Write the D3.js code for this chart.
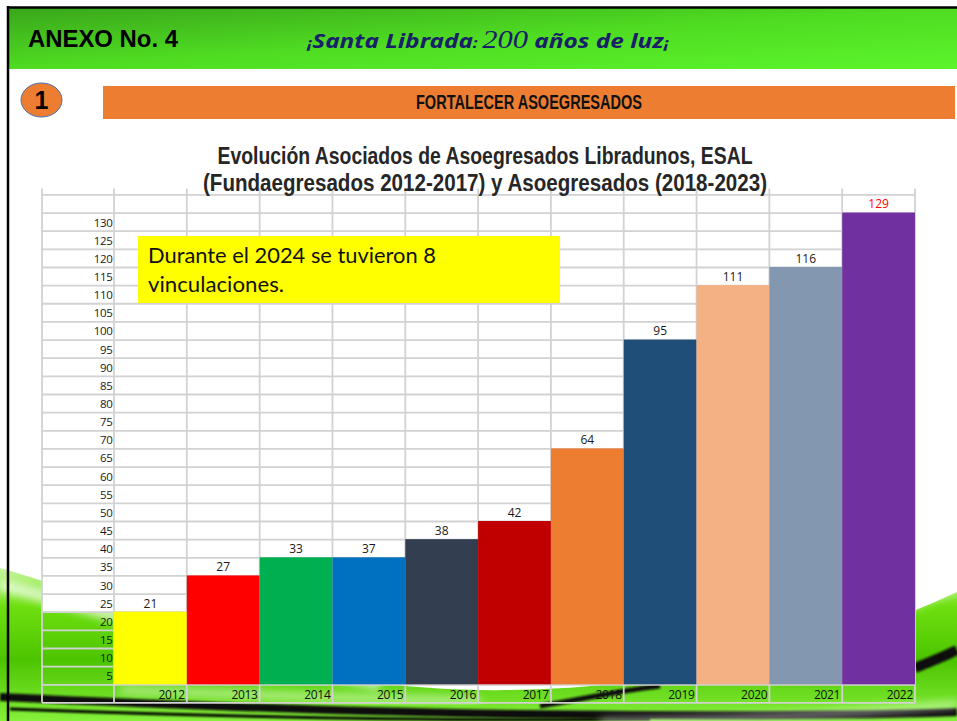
<!DOCTYPE html>
<html>
<head>
<meta charset="utf-8">
<script src="https://cdn.jsdelivr.net/npm/d3@7"></script>
<style>
  body { margin: 0; background: #ffffff; }
  svg { display: block; }
</style>
</head>
<body>
<div id="chart"></div>
<script>
// datos
const anios = ["2012", "2013", "2014", "2015", "2016", "2017", "2018", "2019", "2020", "2021", "2022"];
const asociados = [21, 27, 33, 37, 38, 42, 64, 95, 111, 116, 129];
// altura a la que llega cada barra sobre la cuadrícula de la hoja
const nivelBarra = [20, 30, 35, 35, 40, 45, 65, 95, 110, 115, 130];
const coloresBarra = ["#ffff00", "#ff0000", "#00b050", "#0070c0", "#333f50", "#c00000",
                      "#ed7d31", "#1f4e79", "#f4b183", "#8497b0", "#7030a0"];
const marcasY = [5, 10, 15, 20, 25, 30, 35, 40, 45, 50, 55, 60, 65, 70, 75, 80, 85, 90, 95,
                 100, 105, 110, 115, 120, 125, 130];
const lineasFila = [-5, 0, 5, 10, 15, 20, 25, 30, 35, 40, 45, 50, 55, 60, 65, 70, 75, 80, 85, 90,
                    95, 100, 105, 110, 115, 120, 125, 130, 135];

const W = 957, H = 721;
const data = anios.map((a, i) => ({ anio: a, valor: asociados[i], nivel: nivelBarra[i], color: coloresBarra[i] }));

const svg = d3.select("#chart").append("svg")
    .attr("width", W)
    .attr("height", H);

const defs = svg.append("defs");

// Degradado del encabezado
const gHead = defs.append("linearGradient")
    .attr("id", "gHead")
    .attr("x1", "0").attr("y1", "0").attr("x2", "1").attr("y2", "1");
gHead.append("stop").attr("offset", "0").attr("stop-color", "#3aa61b");
gHead.append("stop").attr("offset", "0.5").attr("stop-color", "#4fdc22");
gHead.append("stop").attr("offset", "1").attr("stop-color", "#5cf52c");

const gSw = defs.append("linearGradient")
    .attr("id", "gSw")
    .attr("x1", "0").attr("y1", "0").attr("x2", "0").attr("y2", "1");
gSw.append("stop").attr("offset", "0").attr("stop-color", "#c8f7a0");
gSw.append("stop").attr("offset", "0.25").attr("stop-color", "#6ee010");
gSw.append("stop").attr("offset", "0.6").attr("stop-color", "#4cc400");
gSw.append("stop").attr("offset", "1").attr("stop-color", "#86f03a");

defs.append("filter").attr("id", "blur4")
    .attr("x", "-10%").attr("y", "-50%").attr("width", "120%").attr("height", "200%")
    .append("feGaussianBlur").attr("stdDeviation", 4);
defs.append("filter").attr("id", "blur1")
    .attr("x", "-10%").attr("y", "-50%").attr("width", "120%").attr("height", "200%")
    .append("feGaussianBlur").attr("stdDeviation", 1.2);

// Fondo: onda verde inferior
const fondo = svg.append("g");
fondo.append("path")
    .attr("d", "M0,568 C100,596 220,650 360,680 C520,706 760,684 957,592 L957,721 L0,721 Z")
    .attr("fill", "url(#gSw)");
fondo.append("path")
    .attr("d", "M0,585 C110,612 220,650 380,684")
    .attr("fill", "none").attr("stroke", "#ffffff").attr("stroke-width", 12)
    .attr("opacity", 0.7).attr("filter", "url(#blur4)");
fondo.append("path")
    .attr("d", "M120,690 C260,694 380,700 480,700")
    .attr("fill", "none").attr("stroke", "#ffffff").attr("stroke-width", 5)
    .attr("opacity", 0.7).attr("filter", "url(#blur4)");
fondo.append("path")
    .attr("d", "M0,697 C150,704 330,712 520,714 C720,716 860,716 957,712")
    .attr("fill", "none").attr("stroke", "#111111").attr("stroke-width", 8)
    .attr("filter", "url(#blur1)");
fondo.append("path")
    .attr("d", "M915,668 C930,662 945,656 957,650")
    .attr("fill", "none").attr("stroke", "#111111").attr("stroke-width", 10)
    .attr("filter", "url(#blur1)");
fondo.append("path")
    .attr("d", "M540,706 C580,700 610,692 660,686")
    .attr("fill", "none").attr("stroke", "#111111").attr("stroke-width", 5)
    .attr("filter", "url(#blur1)");
fondo.append("path")
    .attr("d", "M10,709 C200,716 420,722 650,719")
    .attr("fill", "none").attr("stroke", "#000000").attr("stroke-width", 3)
    .attr("filter", "url(#blur1)");
fondo.append("path")
    .attr("d", "M600,722 C750,720 870,712 957,704")
    .attr("fill", "none").attr("stroke", "#ffffff").attr("stroke-width", 6)
    .attr("opacity", 0.6).attr("filter", "url(#blur4)");
fondo.append("path")
    .attr("d", "M890,614 C915,602 940,592 957,586")
    .attr("fill", "none").attr("stroke", "#ffffff").attr("stroke-width", 10)
    .attr("opacity", 0.7).attr("filter", "url(#blur4)");

// Encabezado
svg.append("rect")
    .attr("x", 8).attr("y", 8)
    .attr("width", W - 8).attr("height", 61)
    .attr("fill", "url(#gHead)");
svg.append("line")
    .attr("x1", 7).attr("x2", W).attr("y1", 7.5).attr("y2", 7.5)
    .attr("stroke", "#000").attr("stroke-width", 2.5);
svg.append("line")
    .attr("x1", 8).attr("x2", 8).attr("y1", 6).attr("y2", H)
    .attr("stroke", "#000").attr("stroke-width", 2.5);

svg.append("text")
    .attr("x", 28).attr("y", 47)
    .attr("font-family", "'Liberation Sans', Arial, sans-serif")
    .attr("font-weight", "bold")
    .attr("font-size", "23px")
    .attr("fill", "#000")
    .attr("textLength", 150).attr("lengthAdjust", "spacingAndGlyphs")
    .text("ANEXO No. 4");

const lema = svg.append("text")
    .attr("x", 307).attr("y", 48)
    .attr("font-family", "'Noto Sans', 'DejaVu Sans', sans-serif")
    .attr("font-weight", "bold")
    .attr("font-style", "italic")
    .attr("font-size", "20px")
    .attr("fill", "#172068")
    .attr("textLength", 362).attr("lengthAdjust", "spacingAndGlyphs");
lema.append("tspan").attr("font-size", "15px").text("¡");
lema.append("tspan").text("Santa Librada");
lema.append("tspan").attr("font-size", "14px").text(": ");
lema.append("tspan")
    .attr("font-family", "'Liberation Serif', 'DejaVu Serif', serif")
    .attr("font-weight", "normal")
    .attr("font-size", "25px")
    .text("200");
lema.append("tspan").text(" años de luz");
lema.append("tspan").attr("font-size", "15px").text("¡");

// Numeral y franja naranja
svg.append("ellipse")
    .attr("cx", 41.5).attr("cy", 100)
    .attr("rx", 20.5).attr("ry", 17)
    .attr("fill", "#ed7d31")
    .attr("stroke", "#4a6fb5").attr("stroke-width", 1);
svg.append("text")
    .attr("x", 41.5).attr("y", 109)
    .attr("text-anchor", "middle")
    .attr("font-family", "'Liberation Sans', Arial, sans-serif")
    .attr("font-weight", "bold")
    .attr("font-size", "25px")
    .attr("fill", "#000")
    .text("1");

svg.append("rect")
    .attr("x", 103).attr("y", 86)
    .attr("width", 852).attr("height", 33)
    .attr("fill", "#ed7d31");
svg.append("text")
    .attr("x", 529).attr("y", 109)
    .attr("text-anchor", "middle")
    .attr("font-family", "'Liberation Sans Narrow', 'Arial Narrow', sans-serif")
    .attr("font-weight", "bold")
    .attr("font-size", "20px")
    .attr("fill", "#111")
    .attr("textLength", 226).attr("lengthAdjust", "spacingAndGlyphs")
    .text("FORTALECER ASOEGRESADOS");

// Escalas
const x = d3.scaleBand()
    .domain(anios)
    .range([114, 915])
    .padding(0);

const y = d3.scaleLinear()
    .domain([0, 135])
    .range([684.3, 194.4]);

const colEtiqueta = 42;  // borde izquierdo de la columna de etiquetas

// Celdas blancas de la hoja (la parte baja deja ver el fondo)
svg.append("rect")
    .attr("x", colEtiqueta).attr("y", y(135) - 6)
    .attr("width", x.range()[1] - colEtiqueta)
    .attr("height", y(20) - y(135) + 6)
    .attr("fill", "#ffffff");

// Cuadrícula
const grid = svg.append("g").attr("class", "grid");
grid.append("g")
    .attr("transform", `translate(${colEtiqueta},0)`)
    .call(d3.axisRight(y)
        .tickValues(lineasFila)
        .tickSize(x.range()[1] - colEtiqueta)
        .tickFormat(""))
    .call(g => g.select(".domain").remove());

const bordes = [colEtiqueta].concat(anios.map(a => x(a))).concat([x.range()[1]]);
grid.selectAll(".vline")
    .data(bordes)
    .enter()
    .append("line")
    .attr("class", "vline")
    .attr("x1", d => d).attr("x2", d => d)
    .attr("y1", y(135) - 6)
    .attr("y2", y(-5));

grid.selectAll("line")
    .attr("stroke", "#d2d2d2")
    .attr("stroke-width", 1.8);

// Barras
svg.selectAll(".bar")
    .data(data)
    .enter()
    .append("rect")
    .attr("class", "bar")
    .attr("x", d => x(d.anio))
    .attr("y", d => y(d.nivel))
    .attr("width", x.bandwidth())
    .attr("height", d => y(0) - y(d.nivel))
    .attr("fill", d => d.color);

const fuenteHoja = "'Open Sans', Lato, sans-serif";

// Etiquetas de valor
svg.selectAll(".valor")
    .data(data)
    .enter()
    .append("text")
    .attr("class", "valor")
    .attr("x", d => x(d.anio) + x.bandwidth() / 2)
    .attr("y", d => y(d.nivel + 2.5) + 5)
    .attr("text-anchor", "middle")
    .attr("font-family", fuenteHoja)
    .attr("font-size", "12px")
    .attr("fill", d => d.anio === "2022" ? "#ff0000" : "#1a1a1a")
    .text(d => d.valor);

// Eje Y (números de fila)
svg.selectAll(".marcaY")
    .data(marcasY)
    .enter()
    .append("text")
    .attr("class", "marcaY")
    .attr("x", x.range()[0] - 1.5)
    .attr("y", d => y(d - 2.5) + 5)
    .attr("text-anchor", "end")
    .attr("font-family", fuenteHoja)
    .attr("font-size", "11.5px")
    .attr("letter-spacing", "-0.3px")
    .attr("fill", "#1a1a1a")
    .text(d => d);

// Eje X (años)
svg.selectAll(".anio")
    .data(anios)
    .enter()
    .append("text")
    .attr("class", "anio")
    .attr("x", d => x(d) + x.bandwidth() - 2)
    .attr("y", y(-2.5) + 5.5)
    .attr("text-anchor", "end")
    .attr("font-family", fuenteHoja)
    .attr("font-size", "12px")
    .attr("letter-spacing", "-0.3px")
    .attr("fill", "#111")
    .text(d => d);

// Título
const titulo = svg.append("text")
    .attr("text-anchor", "middle")
    .attr("font-family", "'Liberation Sans Narrow', 'Arial Narrow', sans-serif")
    .attr("font-weight", "bold")
    .attr("font-size", "23px")
    .attr("fill", "#262626");
titulo.append("tspan")
    .attr("x", 485).attr("y", 163.5)
    .attr("textLength", 535).attr("lengthAdjust", "spacingAndGlyphs")
    .text("Evolución Asociados de Asoegresados Libradunos, ESAL");
titulo.append("tspan")
    .attr("x", 485).attr("y", 191)
    .attr("textLength", 564).attr("lengthAdjust", "spacingAndGlyphs")
    .text("(Fundaegresados 2012-2017) y Asoegresados (2018-2023)");

// Nota amarilla
svg.append("rect")
    .attr("x", 138).attr("y", 236)
    .attr("width", 422).attr("height", 67)
    .attr("fill", "#ffff00");
const nota = svg.append("text")
    .attr("font-family", "Lato, 'Open Sans', sans-serif")
    .attr("font-size", "21px")
    .attr("fill", "#111");
nota.append("tspan")
    .attr("x", 148).attr("y", 263)
    .attr("textLength", 288).attr("lengthAdjust", "spacingAndGlyphs")
    .text("Durante el 2024 se tuvieron 8");
nota.append("tspan")
    .attr("x", 148).attr("y", 291.5)
    .attr("textLength", 136).attr("lengthAdjust", "spacingAndGlyphs")
    .text("vinculaciones.");
</script>
</body>
</html>
